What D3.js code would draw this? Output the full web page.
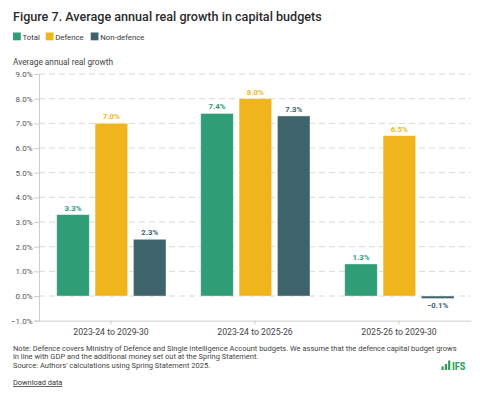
<!DOCTYPE html>
<html>
<head>
<meta charset="utf-8">
<script src="https://cdn.jsdelivr.net/npm/d3@7"></script>
<style>
  html, body { margin: 0; padding: 0; background: #fff; }
  svg { display: block; font-family: Roboto, "Noto Sans", sans-serif; }
</style>
</head>
<body>
<svg id="chart" width="480" height="396"></svg>
<script>
const categories = ["2023-24 to 2029-30", "2023-24 to 2025-26", "2025-26 to 2029-30"];
const seriesNames = ["Total", "Defence", "Non-defence"];
const totalValues = [3.3, 7.4, 1.3];
const defenceValues = [7.0, 8.0, 6.5];
const nonDefenceValues = [2.3, 7.3, -0.1];
const yTicks = [-1, 0, 1, 2, 3, 4, 5, 6, 7, 8, 9];
const colors = ["#2f9e77", "#f0b51c", "#3f636a"];

const seriesValues = [totalValues, defenceValues, nonDefenceValues];

const svg = d3.select("#chart");
const m = { left: 39, right: 471, top: 74, bottom: 320.7 };

// Title
svg.append("text").attr("x", 13).attr("y", 20.5)
  .attr("font-size", 12.6).attr("font-weight", 500).attr("fill", "#2b2b2b")
  .text("Figure 7. Average annual real growth in capital budgets");

// Legend
const legendX = [13, 45.7, 90.7];
seriesNames.forEach((name, i) => {
  const g = svg.append("g").attr("transform", `translate(${legendX[i]},32.5)`);
  g.append("rect").attr("width", 7.8).attr("height", 7.8).attr("fill", colors[i]);
  g.append("text").attr("x", 9.5).attr("y", 7.2).attr("font-size", 7.8).attr("fill", "#3a3a3a").text(name);
});

// Y label
svg.append("text").attr("x", 13).attr("y", 64.5)
  .attr("font-size", 8.3).attr("fill", "#444").text("Average annual real growth");

const y = d3.scaleLinear().domain([-1, 9]).range([m.bottom, m.top]);
const x0 = d3.scaleBand().domain(categories).range([m.left, m.right]).paddingInner(0).paddingOuter(0);
const x1 = d3.scaleBand().domain(seriesNames)
  .range([x0.bandwidth() * 0.123, x0.bandwidth() * 0.882]).paddingInner(0.15).paddingOuter(0);

// Grid lines
svg.append("g").selectAll("line").data(yTicks.filter(t => t !== -1)).join("line")
  .attr("x1", m.left).attr("x2", m.right)
  .attr("y1", d => y(d)).attr("y2", d => y(d))
  .attr("stroke", "#d9d9d9").attr("stroke-width", 1).attr("stroke-dasharray", "6,4");

// Y axis
const yAxis = svg.append("g").attr("transform", `translate(${m.left},0)`)
  .call(d3.axisLeft(y).tickValues(yTicks).tickSize(5).tickPadding(1.5).tickFormat(d => d3.format(".1f")(d) + "%"));
yAxis.select(".domain").attr("stroke", "#cccccc");
yAxis.selectAll(".tick line").attr("stroke", "#cccccc");
yAxis.selectAll(".tick text").attr("font-size", 8).attr("fill", "#555").attr("font-family", "Roboto, sans-serif");

// X axis
const xAxis = svg.append("g").attr("transform", `translate(0,${m.bottom})`)
  .call(d3.axisBottom(x0).tickSize(4).tickPadding(4).tickSizeOuter(0));
xAxis.select(".domain").attr("stroke", "#cccccc");
xAxis.selectAll(".tick line").attr("stroke", "#cccccc");
xAxis.selectAll(".tick text").attr("font-size", 8.7).attr("fill", "#444").attr("font-family", "Roboto, sans-serif");

// Bars
const data = [];
categories.forEach((c, ci) => {
  seriesNames.forEach((s, si) => {
    data.push({ cat: c, series: s, value: seriesValues[si][ci], color: colors[si] });
  });
});

const bars = svg.append("g");
bars.selectAll("rect").data(data).join("rect")
  .attr("x", d => x0(d.cat) + x1(d.series))
  .attr("width", x1.bandwidth())
  .attr("y", d => y(Math.max(0, d.value)))
  .attr("height", d => Math.abs(y(d.value) - y(0)))
  .attr("fill", d => d.color)
  .attr("stroke", "#ffffff").attr("stroke-width", 0.8).attr("stroke-opacity", 0.5);

bars.selectAll("text").data(data).join("text")
  .attr("x", d => x0(d.cat) + x1(d.series) + x1.bandwidth() / 2)
  .attr("y", d => d.value >= 0 ? y(d.value) - 4 : y(d.value) + 10)
  .attr("text-anchor", "middle")
  .attr("font-size", 7.8).attr("font-weight", 700)
  .attr("fill", d => d.color)
  .text(d => d3.format(".1f")(d.value) + "%");

// Notes
const notes = [
  "Note: Defence covers Ministry of Defence and Single Intelligence Account budgets. We assume that the defence capital budget grows",
  "in line with GDP and the additional money set out at the Spring Statement.",
  "Source: Authors' calculations using Spring Statement 2025."
];
svg.append("g").selectAll("text").data(notes).join("text")
  .attr("x", 13).attr("y", (d, i) => 351 + i * 8.3)
  .attr("font-size", 7.5).attr("fill", "#444").text(d => d);

svg.append("text").attr("x", 13).attr("y", 385)
  .attr("font-size", 7.4).attr("fill", "#333").attr("text-decoration", "underline")
  .text("Download data");

// IFS logo
const logo = svg.append("g").attr("transform", "translate(441.5,370)").attr("fill", "#2e9e5b");
[[0, 3.5], [3.3, 6], [6.6, 9.5]].forEach(([bx, h]) => {
  logo.append("rect").attr("x", bx).attr("y", -h).attr("width", 2.2).attr("height", h);
});
logo.append("text").attr("x", 10.5).attr("y", 0).attr("font-size", 10.5).attr("font-weight", 700)
  .attr("font-family", "Roboto Condensed, Roboto, sans-serif").text("IFS");
</script>
</body>
</html>
